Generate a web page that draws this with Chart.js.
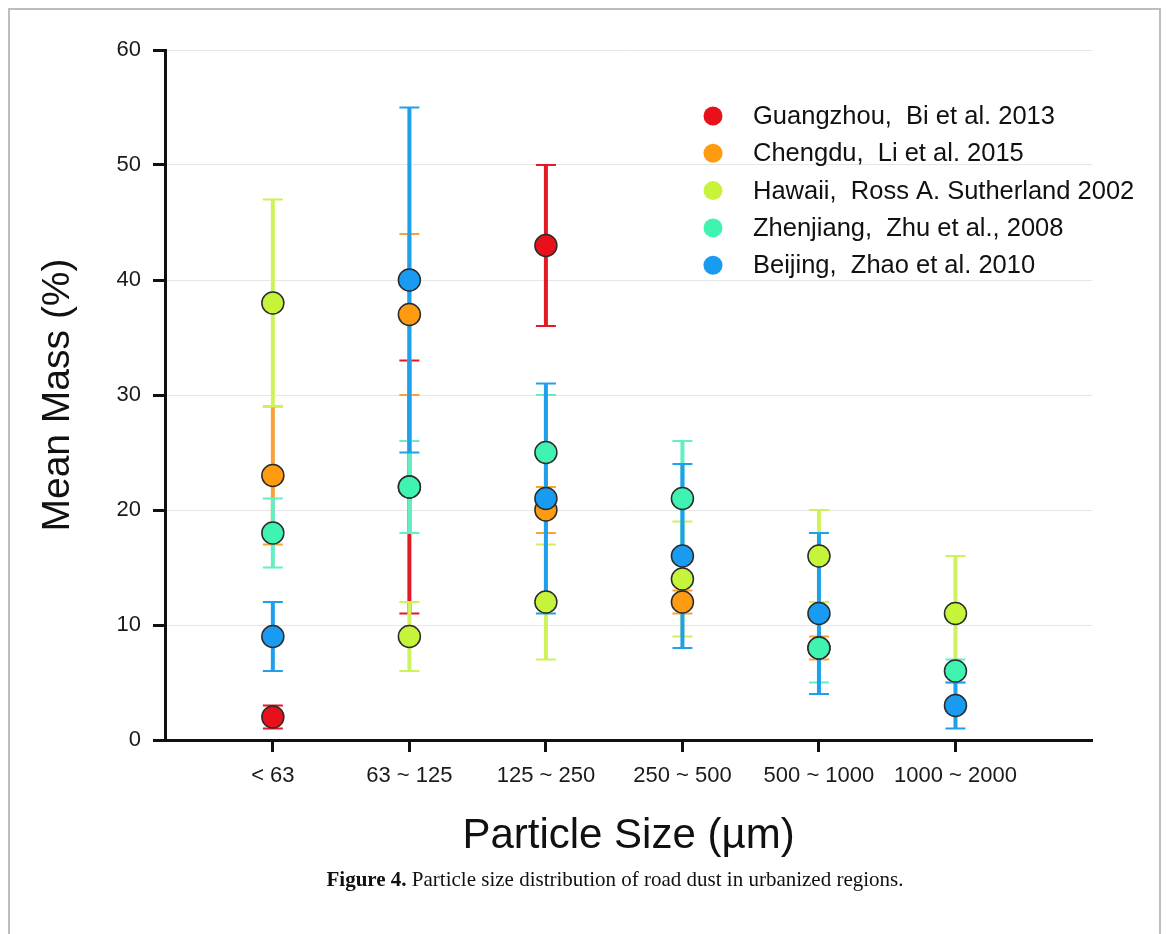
<!DOCTYPE html>
<html>
<head>
<meta charset="utf-8">
<script src="https://cdn.jsdelivr.net/npm/chart.js@4"></script>
<style>
  html, body { margin: 0; padding: 0; background: #fff; }
  #wrap { position: relative; width: 1171px; height: 934px; overflow: hidden; }
  #frame { position: absolute; left: 8px; top: 8px; width: 1153px; height: 960px;
           border: 2px solid #bdbdbd; box-sizing: border-box; }
  #chart { position: absolute; left: 0; top: 0; }
  #caption { position: absolute; left: 0; width: 1230px; top: 867px; text-align: center;
             font-family: "Liberation Serif", "Times New Roman", serif; font-size: 21px; color: #111; }
</style>
</head>
<body>
<div id="wrap">
  <div id="frame"></div>
  <canvas id="chart" width="1171" height="934"></canvas>
  <div id="caption"><b>Figure 4.</b> Particle size distribution of road dust in urbanized regions.</div>
</div>
<script>
// ── Data ──────────────────────────────────────────────────────────────────────
const sizeClasses = ['< 63', '63 ~ 125', '125 ~ 250', '250 ~ 500', '500 ~ 1000', '1000 ~ 2000'];
const yTicks = [0, 10, 20, 30, 40, 50, 60];

const guangzhouMean = [2, 22, 43, null, null, null];
const guangzhouErr  = [1, 11, 7, null, null, null];
const chengduMean   = [23, 37, 20, 12, 8, null];
const chengduErr    = [6, 7, 2, 1, 1, null];
const hawaiiMean    = [38, 9, 12, 14, 16, 11];
const hawaiiErr     = [9, 3, 5, 5, 4, 5];
const zhenjiangMean = [18, 22, 25, 21, 8, 6];
const zhenjiangErr  = [3, 4, 5, 5, 3, 1];
const beijingMean   = [9, 40, 21, 16, 11, 3];
const beijingErr    = [3, 15, 10, 8, 7, 2];

const seriesNames = [
  'Guangzhou,  Bi et al. 2013',
  'Chengdu,  Li et al. 2015',
  'Hawaii,  Ross A. Sutherland 2002',
  'Zhenjiang,  Zhu et al., 2008',
  'Beijing,  Zhao et al. 2010'
];
const seriesMeans = [guangzhouMean, chengduMean, hawaiiMean, zhenjiangMean, beijingMean];
const seriesErrs  = [guangzhouErr, chengduErr, hawaiiErr, zhenjiangErr, beijingErr];
const pointColors = ['#e8111b', '#ff9b10', '#c6f43a', '#3ff4b0', '#1a9bf2'];
const barColors   = ['#e31a22', '#f7a23a', '#cdf25c', '#62efc5', '#20a0ea'];

const FONT = '"Liberation Sans", Arial, Helvetica, sans-serif';

// ── Datasets ──────────────────────────────────────────────────────────────────
const datasets = seriesNames.map(function(name, i) {
  const pts = [];
  seriesMeans[i].forEach(function(v, j) {
    if (v !== null) pts.push({ x: j + 1, y: v, e: seriesErrs[i][j] });
  });
  return {
    label: name,
    data: pts,
    backgroundColor: pointColors[i],
    borderColor: '#2b2b2b',
    borderWidth: 1.5,
    pointRadius: 11,
    pointHoverRadius: 11,
    order: seriesNames.length - 1 - i,
    barColor: barColors[i]
  };
});

// ── Error bars (drawn under the points) ───────────────────────────────────────
const errorBars = {
  id: 'errorBars',
  beforeDatasetsDraw(chart) {
    const ctx = chart.ctx, xs = chart.scales.x, ys = chart.scales.y;
    ctx.save();
    chart.data.datasets.forEach(function(ds) {
      ds.data.forEach(function(p) {
        if (p.e == null) return;
        const px = xs.getPixelForValue(p.x);
        const hi = ys.getPixelForValue(p.y + p.e);
        const lo = ys.getPixelForValue(p.y - p.e);
        ctx.strokeStyle = ds.barColor;
        ctx.lineWidth = 4;
        ctx.beginPath(); ctx.moveTo(px, hi); ctx.lineTo(px, lo); ctx.stroke();
        ctx.lineWidth = 2;
        ctx.beginPath();
        ctx.moveTo(px - 10, hi); ctx.lineTo(px + 10, hi);
        ctx.moveTo(px - 10, lo); ctx.lineTo(px + 10, lo);
        ctx.stroke();
      });
    });
    ctx.restore();
  }
};

// ── Legend inside the plot ────────────────────────────────────────────────────
const insideLegend = {
  id: 'insideLegend',
  afterDraw(chart) {
    const ctx = chart.ctx, area = chart.chartArea;
    const x0 = area.left + 548, y0 = area.top + 66, step = 37.3;
    ctx.save();
    ctx.font = '25.5px ' + FONT;
    ctx.textBaseline = 'middle';
    chart.data.datasets.forEach(function(ds, i) {
      const y = y0 + i * step;
      ctx.fillStyle = ds.backgroundColor;
      ctx.beginPath(); ctx.arc(x0, y, 9.5, 0, Math.PI * 2); ctx.fill();
      ctx.fillStyle = '#111';
      ctx.fillText(ds.label, x0 + 40, y + 1);
    });
    ctx.restore();
  }
};

// ── Chart ─────────────────────────────────────────────────────────────────────
new Chart(document.getElementById('chart'), {
  type: 'scatter',
  data: { datasets: datasets },
  plugins: [errorBars, insideLegend],
  options: {
    responsive: false,
    animation: false,
    devicePixelRatio: 1,
    layout: { padding: { left: 0, top: 50, right: 79, bottom: 0 } },
    plugins: { legend: { display: false }, tooltip: { enabled: false } },
    scales: {
      x: {
        type: 'linear', min: 0.21, max: 7,
        afterFit: function(s) { s.height = 194; },
        afterBuildTicks: function(s) { s.ticks = sizeClasses.map(function(c, i) { return { value: i + 1 }; }); },
        grid: { drawOnChartArea: false, drawTicks: true, tickLength: 12, tickWidth: 3, tickColor: '#111' },
        border: { color: '#111', width: 3 },
        ticks: {
          autoSkip: false, maxRotation: 0, padding: 11, color: '#1a1a1a',
          font: { family: FONT, size: 22 },
          callback: function(v) { return sizeClasses[Math.round(v) - 1] || ''; }
        },
        title: {
          display: true, text: 'Particle Size (\u00b5m)', color: '#111',
          font: { family: FONT, size: 42 }, padding: { top: 0, bottom: 72 }
        }
      },
      y: {
        min: 0, max: 60,
        afterFit: function(s) { s.width = 165; },
        afterBuildTicks: function(s) { s.ticks = yTicks.map(function(v) { return { value: v }; }); },
        grid: { color: '#e6e6e6', lineWidth: 1, drawTicks: true, tickLength: 12, tickWidth: 3, tickColor: '#111' },
        border: { color: '#111', width: 3 },
        ticks: { padding: 12, color: '#1a1a1a', font: { family: FONT, size: 22 } },
        title: {
          display: true, text: 'Mean Mass (%)', color: '#111',
          font: { family: FONT, size: 39 }, padding: { top: 35, bottom: 0 }
        }
      }
    }
  }
});
</script>
</body>
</html>
